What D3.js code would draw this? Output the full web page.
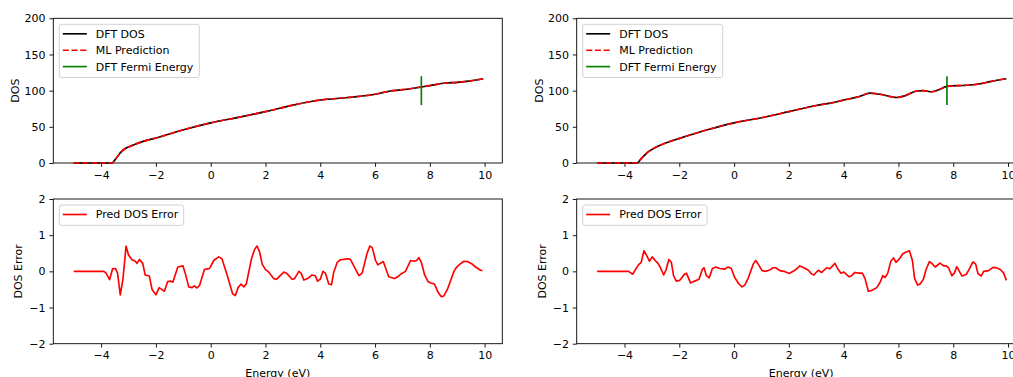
<!DOCTYPE html>
<html><head><meta charset="utf-8">
<script src="https://cdn.jsdelivr.net/npm/d3@7"></script>
<style>
html,body{margin:0;padding:0;background:#fff;overflow:hidden;}
svg{display:block;font-family:"DejaVu Sans",sans-serif;}
</style></head><body>
<svg id="fig" width="1013" height="377"></svg>
<script>
// ---------- data ----------
const xTicks = [-4, -2, 0, 2, 4, 6, 8, 10];
const dosTicks = [0, 50, 100, 150, 200];
const errTicks = [-2, -1, 0, 1, 2];
const legendTop = ["DFT DOS", "ML Prediction", "DFT Fermi Energy"];
const legendBottom = ["Pred DOS Error"];

// left structure
const dosE_A = [-5, -4.5, -4, -3.6, -3.48, -3.3, -3.12, -2.87, -2.57, -2.27, -1.96, -0.99, 0, 1, 2, 3, 4, 5, 6, 6.56, 6.93, 8, 8.57, 9.0, 9.49, 9.95];
const dos_A  = [0, 0, 0, 0, 5, 14, 20, 24, 28.5, 32, 35, 46, 55.5, 63, 71, 80, 87, 90.5, 95, 99.5, 101, 107, 110.5, 111.5, 113.5, 116.5];
const fermi_A = 7.69;
const errE_A = [-5, -3.9, -3.82, -3.69, -3.58, -3.48, -3.4, -3.3, -3.2, -3.09, -3.0, -2.87, -2.75, -2.69, -2.6, -2.48, -2.39, -2.24, -2.14, -2.0, -1.88, -1.75, -1.69, -1.57, -1.45, -1.38, -1.2, -1.01, -0.93, -0.8, -0.68, -0.6, -0.5, -0.4, -0.23, -0.13, -0.04, 0.11, 0.29, 0.41, 0.6, 0.8, 0.9, 1.0, 1.11, 1.21, 1.3, 1.49, 1.6, 1.69, 1.78, 1.88, 2.0, 2.09, 2.3, 2.4, 2.52, 2.67, 2.77, 2.97, 3.06, 3.22, 3.3, 3.4, 3.54, 3.7, 3.82, 3.9, 4.0, 4.1, 4.19, 4.31, 4.41, 4.49, 4.62, 4.74, 4.86, 5.0, 5.1, 5.41, 5.53, 5.71, 5.81, 5.9, 6.02, 6.1, 6.3, 6.5, 6.59, 6.71, 6.83, 6.93, 7.11, 7.3, 7.42, 7.52, 7.6, 7.69, 7.81, 7.93, 8.03, 8.17, 8.3, 8.42, 8.51, 8.64, 8.88, 8.98, 9.1, 9.24, 9.37, 9.51, 9.67, 9.85, 9.92];
const err_A  = [0, 0, -0.05, -0.23, 0.07, 0.08, -0.05, -0.65, -0.2, 0.7, 0.45, 0.32, 0.28, 0.22, 0.33, 0.22, -0.1, -0.13, -0.5, -0.65, -0.45, -0.52, -0.55, -0.28, -0.27, -0.3, 0.12, 0.15, -0.05, -0.43, -0.45, -0.4, -0.46, -0.38, 0.05, 0.07, 0.08, 0.3, 0.4, 0.35, -0.1, -0.62, -0.67, -0.45, -0.35, -0.43, -0.35, 0.35, 0.6, 0.7, 0.55, 0.2, 0.05, 0.0, -0.2, -0.22, -0.13, -0.02, -0.05, -0.22, -0.2, 0.0, -0.05, -0.24, -0.2, -0.1, -0.12, -0.27, -0.22, 0.0, -0.05, -0.35, -0.37, -0.03, 0.25, 0.32, 0.33, 0.35, 0.33, -0.12, -0.05, 0.5, 0.7, 0.65, 0.3, 0.18, 0.27, -0.15, -0.17, -0.2, -0.15, -0.08, 0.0, 0.3, 0.28, 0.3, 0.38, 0.25, -0.1, -0.28, -0.32, -0.35, -0.58, -0.7, -0.68, -0.5, 0.0, 0.12, 0.2, 0.28, 0.27, 0.22, 0.12, 0.03, 0.02];

// right structure
const dosE_B = [-5, -4.5, -4, -3.55, -3.39, -3.15, -2.84, -2.54, -1.99, -1.01, 0, 1, 2, 3, 3.68, 4, 4.54, 4.96, 5.33, 5.94, 6.24, 6.67, 6.91, 7.22, 7.52, 7.77, 8.5, 8.99, 9.35, 9.94];
const dos_B  = [0, 0, 0, 0, 6, 15, 22, 27, 34, 45.5, 55.5, 62.5, 71, 79.5, 84, 87, 91.5, 96.5, 95, 90.5, 93, 99.5, 100, 98.5, 102, 106, 107.5, 109.5, 112.5, 116.5];
const fermi_B = 7.77;
const errE_B = [-5, -3.85, -3.7, -3.6, -3.49, -3.39, -3.29, -3.18, -3.09, -2.99, -2.88, -2.78, -2.7, -2.57, -2.48, -2.38, -2.29, -2.21, -2.11, -1.99, -1.8, -1.74, -1.59, -1.44, -1.28, -1.16, -1.1, -1.01, -0.91, -0.79, -0.67, -0.52, -0.34, -0.22, -0.1, 0.02, 0.18, 0.29, 0.39, 0.51, 0.7, 0.79, 0.88, 1.02, 1.16, 1.3, 1.43, 1.52, 1.67, 1.82, 2.01, 2.22, 2.4, 2.55, 2.71, 2.83, 2.91, 3.07, 3.2, 3.38, 3.5, 3.68, 3.8, 3.9, 4.01, 4.2, 4.29, 4.41, 4.54, 4.68, 4.78, 4.9, 5.02, 5.21, 5.33, 5.43, 5.51, 5.61, 5.72, 5.82, 5.91, 6.04, 6.15, 6.24, 6.4, 6.51, 6.59, 6.7, 6.79, 6.91, 7.01, 7.13, 7.22, 7.34, 7.52, 7.65, 7.74, 7.83, 7.95, 8.04, 8.13, 8.32, 8.48, 8.6, 8.72, 8.82, 8.9, 9.02, 9.11, 9.29, 9.45, 9.57, 9.72, 9.84, 9.94];
const err_B  = [0, 0, -0.08, 0.05, 0.18, 0.25, 0.57, 0.42, 0.28, 0.4, 0.3, 0.22, 0.12, -0.1, 0.05, 0.33, 0.25, -0.12, -0.27, -0.25, -0.07, -0.05, -0.32, -0.27, -0.22, 0.05, 0.1, -0.12, -0.18, 0.08, 0.12, 0.08, 0.06, 0.12, 0.08, -0.17, -0.35, -0.43, -0.38, -0.2, 0.2, 0.3, 0.2, 0.02, 0.0, 0.04, 0.1, 0.1, 0.02, 0.0, -0.06, 0.03, 0.15, 0.1, 0.03, -0.07, -0.1, 0.03, -0.03, 0.1, 0.07, 0.22, 0.05, -0.05, -0.02, -0.15, -0.12, -0.03, -0.05, -0.05, -0.2, -0.55, -0.53, -0.45, -0.3, -0.12, -0.17, -0.05, 0.28, 0.37, 0.25, 0.35, 0.48, 0.52, 0.57, 0.3, -0.2, -0.38, -0.35, -0.22, 0.05, 0.27, 0.22, 0.12, 0.23, 0.15, 0.15, 0.1, -0.12, -0.05, 0.13, -0.13, -0.08, 0.08, 0.26, 0.2, -0.06, -0.13, 0.0, 0.02, 0.11, 0.1, 0.05, -0.05, -0.25];

// ---------- drawing ----------
const svg = d3.select("#fig");
const FS = 11;
const xDomain = [-5.745, 10.645];

function axesFrame(g, x, y, w, h, xs, ys, yt, ylabel, xlabel) {
  const ax = g.append("g").attr("transform", `translate(${x},${y})`);
  const xa = ax.append("g").attr("transform", `translate(0,${h})`)
    .call(d3.axisBottom(xs).tickValues(xTicks).tickFormat(d3.format("d")).tickSize(3.9).tickPadding(3.9));
  const ya = ax.append("g")
    .call(d3.axisLeft(ys).tickValues(yt).tickFormat(d3.format("d")).tickSize(3.9).tickPadding(3.9));
  [xa, ya].forEach(a => {
    a.select(".domain").remove();
    a.selectAll("line").attr("stroke", "#000").attr("stroke-width", 0.9);
    a.selectAll("text").attr("font-size", FS).attr("fill", "#000").attr("font-family", "DejaVu Sans");
  });
  ax.append("rect").attr("x", 0).attr("y", 0).attr("width", w).attr("height", h)
    .attr("fill", "none").attr("stroke", "#000").attr("stroke-width", 0.9);
  ax.append("text").attr("transform", `translate(${ylabel.x},${h / 2}) rotate(-90)`)
    .attr("text-anchor", "middle").attr("font-size", FS).attr("fill", "#000").text(ylabel.t);
  if (xlabel) {
    ax.append("text").attr("x", w / 2).attr("y", h + 33).attr("text-anchor", "middle")
      .attr("font-size", FS).attr("fill", "#000").text(xlabel);
  }
  return ax;
}

function legend(ax, items, w) {
  const rowH = 16.4;
  const g = ax.append("g").attr("transform", "translate(6,6)");
  const h = items.length * rowH + 4;
  g.append("rect").attr("x", 0).attr("y", 0).attr("width", w).attr("height", h)
    .attr("rx", 2.5).attr("fill", "#fff").attr("fill-opacity", 0.8)
    .attr("stroke", "#cccccc").attr("stroke-width", 0.9);
  items.forEach((it, i) => {
    const cy = 9.5 + i * rowH;
    const ln = g.append("line").attr("x1", 3.5).attr("x2", 27.5).attr("y1", cy).attr("y2", cy)
      .attr("stroke", it.c).attr("stroke-width", 1.65);
    if (it.dash) ln.attr("stroke-dasharray", "6.1,2.6");
    g.append("text").attr("x", 36.5).attr("y", cy).attr("dy", "0.36em")
      .attr("font-size", FS).attr("fill", "#000").text(it.t);
  });
}

function drawColumn(left, yLabX1, yLabX2, dosE, dos, fermi, errE, err) {
  const W = 449, H1 = 144.7, H2 = 144.7;
  const top1 = 18.3, top2 = 199;
  const xs = d3.scaleLinear().domain(xDomain).range([0, W]);
  const ys1 = d3.scaleLinear().domain([0, 200]).range([H1, 0]);
  const ys2 = d3.scaleLinear().domain([-2, 2]).range([H2, 0]);

  // top panel
  const ax1 = axesFrame(svg, left, top1, W, H1, xs, ys1, dosTicks, {x: yLabX1, t: "DOS"}, null);
  const line1 = d3.line().x((d, i) => xs(dosE[i])).y(d => ys1(d)).curve(d3.curveMonotoneX);
  ax1.append("path").datum(dos).attr("d", line1).attr("fill", "none")
    .attr("stroke", "#000").attr("stroke-width", 1.65);
  ax1.append("path").datum(dos).attr("d", line1).attr("fill", "none")
    .attr("stroke", "red").attr("stroke-width", 1.65).attr("stroke-dasharray", "6.1,2.6");
  ax1.append("line").attr("x1", xs(fermi)).attr("x2", xs(fermi))
    .attr("y1", ys1(80)).attr("y2", ys1(120)).attr("stroke", "green").attr("stroke-width", 1.65);
  legend(ax1, [
    {t: legendTop[0], c: "#000"},
    {t: legendTop[1], c: "red", dash: true},
    {t: legendTop[2], c: "green"}
  ], 140);

  // bottom panel
  const ax2 = axesFrame(svg, left, top2, W, H2, xs, ys2, errTicks, {x: yLabX2, t: "DOS Error"}, "Energy (eV)");
  const line2 = d3.line().x((d, i) => xs(errE[i])).y(d => ys2(d));
  ax2.append("path").datum(err).attr("d", line2).attr("fill", "none")
    .attr("stroke", "red").attr("stroke-width", 1.65).attr("stroke-linejoin", "round");
  legend(ax2, [{t: legendBottom[0], c: "red"}], 124.4);
}

drawColumn(53.3, -34, -31, dosE_A, dos_A, fermi_A, errE_A, err_A);
drawColumn(576.7, -34, -31, dosE_B, dos_B, fermi_B, errE_B, err_B);
</script>
</body></html>
